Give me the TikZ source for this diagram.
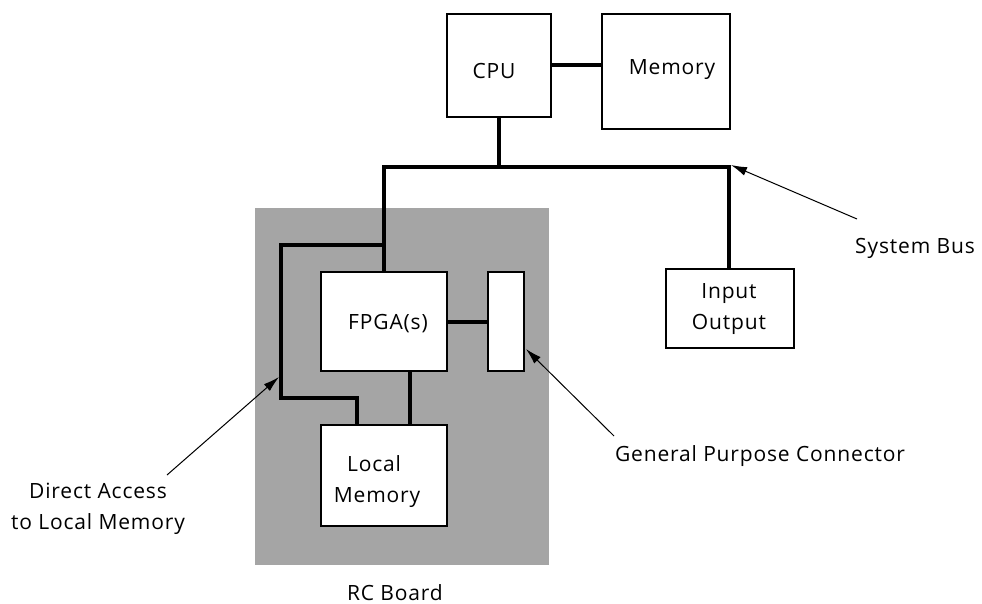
\documentclass[tikz,border=0pt]{standalone}
\usepackage{fontspec}
\setmainfont[LetterSpace=4]{Open Sans}
\usetikzlibrary{arrows.meta,calc}
\definecolor{boardgrey}{RGB}{165,165,165}
\begin{document}
\begin{tikzpicture}[x=1pt,y=-1pt,
  font=\fontsize{21}{31}\selectfont,
  box/.style={draw=black,line width=2pt,fill=white,inner sep=0pt,anchor=center},
  bus/.style={line width=4pt},
  pointer/.style={line width=1pt,-{Latex[length=16pt,width=9pt]}},
  txt/.style={inner sep=0pt,align=center}]
\useasboundingbox (0,0) rectangle (982,604);

% RC board background
\fill[boardgrey] (255,208) rectangle (549,565);

% boxes
\node[box,minimum width=104pt,minimum height=103pt] (cpu) at (499,65.5) {};
\node[box,minimum width=128pt,minimum height=115pt] (mem) at (666,71.5) {};
\node[box,minimum width=126pt,minimum height=99pt] (fpga) at (384,321.5) {};
\node[box,minimum width=36pt,minimum height=99pt] (gpc) at (506,321.5) {};
\node[box,minimum width=126pt,minimum height=101pt] (lmem) at (384,475.5) {};
\node[box,minimum width=128pt,minimum height=79pt] (io) at (730,308.5) {};

% box texts
\node[txt] (cpuT) at (494,71) {CPU};
\node[txt] (memT) at (672,70) {Memory};
\node[txt] (fpgaT) at (388,324) {FPGA(s)};
\node[txt,text width=110pt] (lmemT) at (377,482) {\hspace*{-6pt}Local\\Memory};
\node[txt] (ioT) at (729,309) {Input\\Output};

% bus junctions
\coordinate (busL) at (384,167);
\coordinate (busR) at (729,167);
\coordinate (tap) at (384,245);
\coordinate (dA) at (281,245);
\coordinate (dB) at (281,398);
\coordinate (dC) at (357,398);

% connections
\draw[bus] (cpu.east) -- (cpu.east -| mem.west);
\draw[bus] (cpu.south) -- (cpu.south |- busL);
\draw[bus] (fpga.north) -- (busL) -- (busR) -- (io.north -| busR);
\draw[bus] (tap) -- (dA) -- (dB) -- (dC) -- (dC |- lmem.north);
\draw[bus] (fpga.east) -- (gpc.west);
\draw[bus] ([xshift=26pt]fpga.south) -- ([xshift=26pt]fpga.south |- lmem.north);

% annotations
\node[txt] (sbT) at (915,248) {System Bus};
\node[txt] (gpcT) at (760,456) {General Purpose Connector};
\node[txt] (daT) at (98,509) {Direct Access\\to Local Memory};
\node[txt,anchor=base,text depth=0pt] (rcT) at (395,600) {RC Board};

\coordinate (sbTail) at (857,219);
\coordinate (gpcTail) at (614,436);
\coordinate (gpcTip) at (526,349);
\coordinate (daTail) at (167,475);
\coordinate (daTip) at (279,377);

\draw[pointer] (sbTail) -- ([shift={(2pt,2pt)}]busR);
\draw[pointer] (gpcTail) -- (gpcTip);
\draw[pointer] (daTail) -- (daTip);
\end{tikzpicture}
\end{document}
